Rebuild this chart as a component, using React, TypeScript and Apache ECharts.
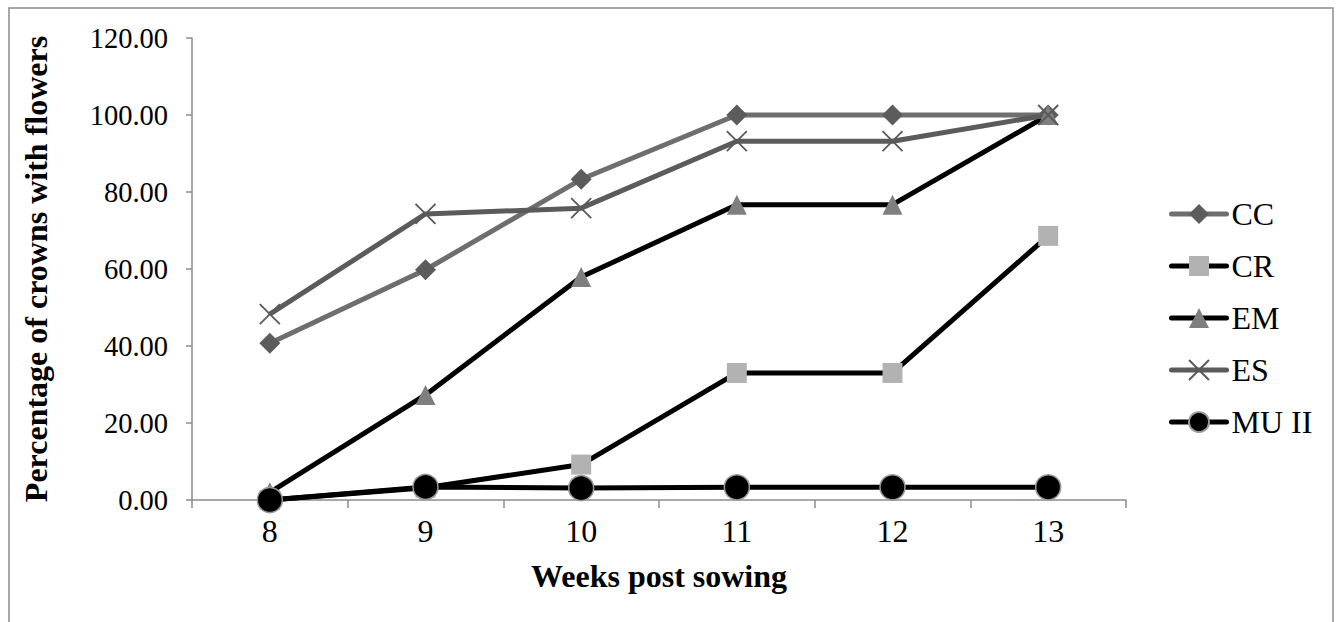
import React, { useEffect, useRef } from "react";
import * as echarts from "echarts";

const weeks = ["8", "9", "10", "11", "12", "13"];
const ccValues = [40.7, 59.8, 83.3, 100, 100, 100];
const crValues = [0, 3.2, 9.2, 33.0, 33.0, 68.6];
const emValues = [2.0, 27.3, 57.9, 76.7, 76.7, 100];
const esValues = [48.3, 74.3, 75.8, 93.2, 93.2, 100];
const muValues = [0, 3.4, 3.1, 3.3, 3.3, 3.3];
const yTicks = { min: 0, max: 120, interval: 20 };

const FONT = "'Liberation Serif', 'Times New Roman', serif";

export default function App() {
  const ref = useRef<HTMLDivElement>(null);
  useEffect(() => {
    if (!ref.current) return;
    const chart = echarts.init(ref.current, undefined, { renderer: "svg" });
    const crossPath = "path://M0,0L10,10M10,0L0,10";
    chart.setOption({
      animation: false,
      backgroundColor: "#ffffff",
      textStyle: { fontFamily: FONT },
      graphic: [
        {
          type: "rect",
          shape: { x: 9, y: 8, width: 1324, height: 700 },
          style: { fill: "none", stroke: "#8c8c8c", lineWidth: 1.5 },
          silent: true,
        },
      ],
      grid: { left: 192, top: 38, right: 212, bottom: 122, containLabel: false },
      legend: {
        orient: "vertical",
        left: 1164,
        top: 193,
        itemWidth: 55,
        itemHeight: 25,
        itemGap: 20,
        lineStyle: { width: 5, cap: "round" },
        textStyle: { fontFamily: FONT, fontSize: 32, color: "#000" },
        data: ["CC", "CR", "EM", "ES", "MU II"],
      },
      xAxis: {
        type: "category",
        data: weeks,
        boundaryGap: true,
        name: "Weeks post sowing",
        nameLocation: "middle",
        nameGap: 60,
        nameTextStyle: { fontFamily: FONT, fontSize: 32, fontWeight: "bold", color: "#000" },
        axisLine: { lineStyle: { color: "#8c8c8c", width: 1.5 } },
        axisTick: { show: true, length: 8, alignWithLabel: false, lineStyle: { color: "#8c8c8c", width: 1.5 } },
        axisLabel: { fontFamily: FONT, fontSize: 32, color: "#000", margin: 15 },
        splitLine: { show: false },
      },
      yAxis: {
        type: "value",
        min: yTicks.min,
        max: yTicks.max,
        interval: yTicks.interval,
        name: "Percentage of crowns with flowers",
        nameLocation: "middle",
        nameGap: 140,
        nameTextStyle: { fontFamily: FONT, fontSize: 32, fontWeight: "bold", color: "#000" },
        axisLine: { show: true, lineStyle: { color: "#8c8c8c", width: 1.5 } },
        axisTick: { show: true, length: 6, lineStyle: { color: "#8c8c8c", width: 1.5 } },
        axisLabel: {
          fontFamily: FONT,
          fontSize: 28.5,
          color: "#000",
          margin: 24,
          formatter: (v: number) => v.toFixed(2),
        },
        splitLine: { show: false },
      },
      series: [
        {
          name: "CC",
          type: "line",
          data: ccValues,
          symbol: "diamond",
          symbolSize: 21,
          lineStyle: { color: "#6e6e6e", width: 5 },
          itemStyle: { color: "#5c5c5c" },
        },
        {
          name: "CR",
          type: "line",
          data: crValues,
          symbol: "rect",
          symbolSize: 20,
          lineStyle: { color: "#000000", width: 5 },
          itemStyle: { color: "#b2b2b2" },
        },
        {
          name: "EM",
          type: "line",
          data: emValues,
          symbol: "triangle",
          symbolSize: 20,
          lineStyle: { color: "#000000", width: 5 },
          itemStyle: { color: "#7f7f7f" },
        },
        {
          name: "ES",
          type: "line",
          data: esValues,
          symbol: crossPath,
          symbolSize: 20,
          lineStyle: { color: "#5b5b5b", width: 5 },
          itemStyle: { color: "#595959", borderColor: "#595959", borderWidth: 1.8 },
        },
        {
          name: "MU II",
          type: "line",
          data: muValues,
          symbol: "circle",
          symbolSize: 25,
          lineStyle: { color: "#000000", width: 5 },
          itemStyle: { color: "#000000", borderColor: "#9a9a9a", borderWidth: 1.5 },
        },
      ],
    });
    return () => chart.dispose();
  }, []);
  return (
    <div
      ref={ref}
      style={{ position: "absolute", left: 0, top: 0, width: 1338, height: 622 }}
    />
  );
}
